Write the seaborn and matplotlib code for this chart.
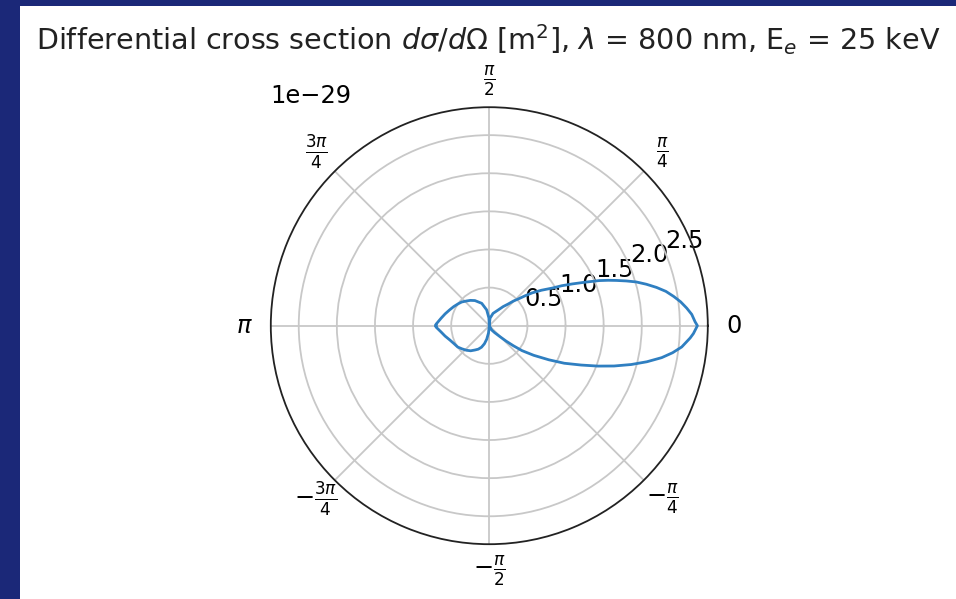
import numpy as np
import pandas as pd
import matplotlib
matplotlib.use("Agg")
import matplotlib.pyplot as plt
import seaborn as sns

# ---- data (angle in degrees, cross section in 1e-29 m^2)
theta_deg = [-180, -178.6, -172.8, -166.8, -160, -153.2, -145.9, -139.8, -132.9,
             -126.6, -120.5, -115.1, -109.9, -105.1, -100.8, -96.3, -90,
             -60.8, -52.6, -45.8, -42.5, -39.8, -37.3, -33.7, -29.8, -26.6, -23.2,
             -20.4, -17.9, -15.3, -12.9, -10.5, -8.4, -6.3, -3.5, -2.2,
             0, 1.1, 3.2, 5.1, 7.1, 9.0, 11.0, 12.9, 14.8, 16.6, 18.1, 19.6, 20.9,
             22.3, 24.3, 26.7, 28.9, 30.9, 34.2, 37.4, 39.8, 42.6, 45.7, 48.8, 54.1,
             60.2, 73.1, 84.6, 90,
             93, 99.4, 108.7, 119.8, 126.8, 132.5, 139.3, 145, 151.8, 158.2, 165,
             171.2, 178.5, 180]
sigma_1e29 = [0.70, 0.70, 0.64, 0.596, 0.55, 0.52, 0.50, 0.47, 0.44,
              0.41, 0.37, 0.34, 0.30, 0.245, 0.18, 0.097, 0.0,
              0.065, 0.113, 0.20, 0.30, 0.41, 0.54, 0.70, 0.90, 1.10, 1.31,
              1.52, 1.72, 1.93, 2.12, 2.30, 2.43, 2.54, 2.64, 2.68,
              2.73, 2.70, 2.66, 2.60, 2.53, 2.45, 2.36, 2.25, 2.13, 2.01, 1.89, 1.77, 1.67,
              1.56, 1.39, 1.22, 1.085, 0.96, 0.828, 0.71, 0.615, 0.52, 0.45, 0.38, 0.309,
              0.24, 0.169, 0.098, 0.0,
              0.102, 0.21, 0.31, 0.38, 0.415, 0.44, 0.477, 0.50, 0.53, 0.56, 0.60,
              0.64, 0.70, 0.70]

theta_tick_deg = [0, 45, 90, 135, 180, 225, 270, 315]
theta_tick_labels = [r'$0$', r'$\frac{\pi}{4}$', r'$\frac{\pi}{2}$', r'$\frac{3\pi}{4}$',
                     r'$\pi$', r'$-\frac{3\pi}{4}$', r'$-\frac{\pi}{2}$', r'$-\frac{\pi}{4}$']

title = (r'Differential cross section $d\sigma/d\Omega$ [m$^2$], $\lambda$ = 800 nm, '
         r'E$_e$ = 25 keV')

df = pd.DataFrame({"theta": np.deg2rad(theta_deg),
                   "sigma": np.array(sigma_1e29) * 1e-29})

W, H = 956, 599
fig = plt.figure(figsize=(W / 100, H / 100), dpi=100, facecolor='#1b2878')
bg = plt.Rectangle((20 / W, 0), 1 - 20 / W, 1 - 6 / H,
                   transform=fig.transFigure, facecolor='white',
                   edgecolor='none', zorder=-10)
fig.patches.append(bg)

cx, cy, R = 489.3, 325.7, 218.5
ax = fig.add_axes([(cx - R) / W, (H - cy - R) / H, 2 * R / W, 2 * R / H],
                  projection='polar')
ax.set_zorder(5)

sns.lineplot(data=df, x="theta", y="sigma", sort=False, estimator=None,
             ax=ax, color='#2f7fc1', linewidth=2.0)

ax.set_xlabel('')
ax.set_ylabel('')
ax.set_xticks(np.deg2rad(theta_tick_deg))
ax.set_xticklabels(theta_tick_labels)
ax.tick_params(axis='both', labelsize=17.4)
ax.tick_params(axis='x', pad=8.5)
ax.yaxis.get_offset_text().set_fontsize(17.4)
ax.grid(True, color='#c8c8c8', linewidth=1.3)
ax.spines['polar'].set_linewidth(1.3)
ax.spines['polar'].set_color('#222222')

fig.text(488 / W, 1 - 50 / H, title, ha='center', va='baseline', fontsize=20.6,
         color='#222222', zorder=6)

fig.savefig('out.png', dpi=100, facecolor=fig.get_facecolor())
